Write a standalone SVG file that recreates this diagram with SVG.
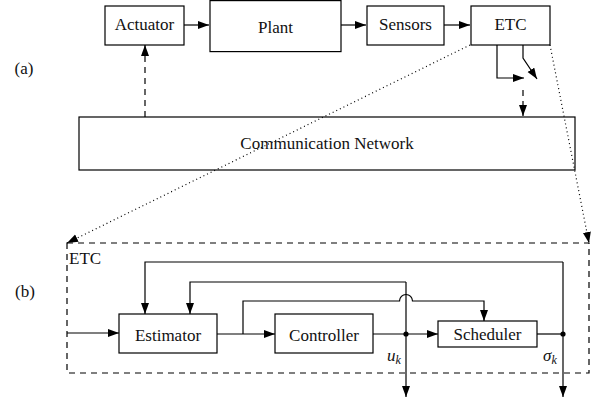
<svg xmlns="http://www.w3.org/2000/svg" width="597" height="407" viewBox="0 0 597 407">
<style>
.box{fill:none;stroke:#000;stroke-width:1.2}
.ln{fill:none;stroke:#000;stroke-width:1.2}
.dash{stroke-dasharray:6,5}
.dot{stroke-dasharray:1,3}
.t{font-size:17px;fill:#111}
.c{text-anchor:middle}
.it{font-style:italic}
</style>
<defs>
<marker id="ah" markerUnits="userSpaceOnUse" markerWidth="12" markerHeight="9" refX="11" refY="4" orient="auto">
<path d="M0,0 L11,4 L0,8 z" fill="#000"/>
</marker>
</defs>
<rect width="597" height="407" fill="#fff"/>
<g font-family="Liberation Serif, Times New Roman, serif">
<g id="label-a"><text x="24" y="74" class="t c">(a)</text></g>
<g id="label-b"><text x="25" y="297" class="t c">(b)</text></g>
<g id="actuator"><rect class="box" x="105" y="6" width="79" height="39"/><text x="144.5" y="30" class="t c">Actuator</text></g>
<g id="plant"><rect class="box" x="210" y="0.6" width="131" height="51"/><text x="275.5" y="33" class="t c">Plant</text></g>
<g id="sensors"><rect class="box" x="367" y="6" width="77" height="39"/><text x="405.5" y="30" class="t c">Sensors</text></g>
<g id="etc"><rect class="box" x="471" y="6" width="79" height="39"/><text x="510.5" y="30" class="t c">ETC</text></g>
<g id="network"><rect class="box" x="79" y="117" width="496" height="53"/><text x="327" y="149" class="t c">Communication Network</text></g>
<g id="etc-detail"><rect x="67" y="243" width="522" height="130" fill="none" stroke="#000" stroke-width="1.2" class="dash"/><text x="69" y="264" class="t">ETC</text></g>
<g id="estimator"><rect class="box" x="119" y="314" width="98" height="39"/><text x="168" y="341" class="t c">Estimator</text></g>
<g id="controller"><rect class="box" x="275" y="314" width="98" height="39"/><text x="324" y="341" class="t c">Controller</text></g>
<g id="scheduler"><rect class="box" x="438" y="321" width="99" height="26"/><text x="487.5" y="340" class="t c">Scheduler</text></g>
<g id="uk"><text x="387" y="361" class="t it">u<tspan font-size="12" dy="3">k</tspan></text></g>
<g id="sk"><text x="543" y="361" class="t it">σ<tspan font-size="12" dy="3">k</tspan></text></g>
</g>
<g id="connectors">
<path class="ln" d="M184,25 H209" marker-end="url(#ah)"/>
<path class="ln" d="M341,25 H366" marker-end="url(#ah)"/>
<path class="ln" d="M444,25 H470" marker-end="url(#ah)"/>
<path class="ln" d="M497,45 V78 H524" marker-end="url(#ah)"/>
<path class="ln" d="M523,45 V58 L537,79" marker-end="url(#ah)"/>
<path class="ln dash" d="M523,90 V116" marker-end="url(#ah)"/>
<path class="ln dash" d="M145,117 V45" marker-end="url(#ah)"/>
<path class="ln dot" d="M470,45 L67,243" marker-end="url(#ah)"/>
<path class="ln dot" d="M550,45 L589,243" marker-end="url(#ah)"/>
<path class="ln" d="M67,333 H119" marker-end="url(#ah)"/>
<path class="ln" d="M217,334 H275" marker-end="url(#ah)"/>
<path class="ln" d="M243,334 V301 H399.5 A6.5,6.5 0 0 1 412.5,301 H484 V321" marker-end="url(#ah)"/>
<path class="ln" d="M373,334 H438" marker-end="url(#ah)"/>
<path class="ln" d="M406,282 V397" marker-end="url(#ah)"/>
<path class="ln" d="M406,282 H190 V314" marker-end="url(#ah)"/>
<path class="ln" d="M537,334 H563"/>
<path class="ln" d="M563,262 V397" marker-end="url(#ah)"/>
<path class="ln" d="M563,262 H145 V314" marker-end="url(#ah)"/>
<circle cx="406" cy="334" r="2.6" fill="#000"/>
<circle cx="563" cy="334" r="2.6" fill="#000"/>
</g>
</svg>
